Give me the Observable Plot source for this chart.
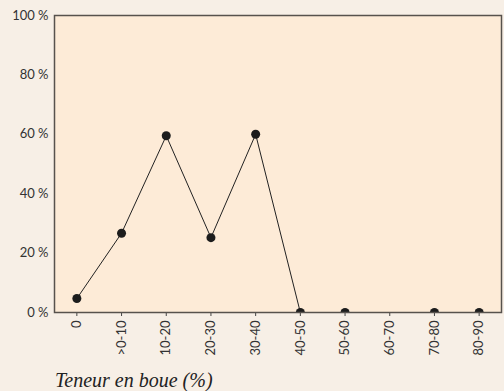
<!DOCTYPE html>
<html>
<head>
<meta charset="utf-8">
<script src="https://cdn.jsdelivr.net/npm/d3@7"></script>
<script src="https://cdn.jsdelivr.net/npm/@observablehq/plot@0.6"></script>
<style>
  html, body { margin: 0; padding: 0; background: #f7efe6; }
  #wrap { position: relative; width: 504px; height: 391px; overflow: hidden; }
  #caption { position: absolute; left: 55px; top: 369px; font-family: "Liberation Serif", serif; font-style: italic; font-size: 20px; line-height: 22px; color: #222; white-space: nowrap; }
</style>
</head>
<body>
<div id="wrap">
  <div id="chart"></div>
  <div id="caption">Teneur en boue (%)</div>
</div>
<script>
const categories = ["0", ">0-10", "10-20", "20-30", "30-40", "40-50", "50-60", "60-70", "70-80", "80-90"];
const values = [4.7, 26.7, 59.5, 25.2, 60, 0, 0, null, 0, 0];
const yTicks = [0, 20, 40, 60, 80, 100];

const data = categories.map((c, i) => ({cat: c, v: values[i]}));
const pts = data.filter(d => d.v !== null);

const chart = Plot.plot({
  width: 504,
  height: 358,
  marginTop: 15,
  marginLeft: 54,
  marginRight: 3,
  marginBottom: 46,
  style: {background: "transparent", fontFamily: "Lato, 'Open Sans', sans-serif", color: "#333"},
  x: {type: "point", domain: categories, padding: 0.5, round: false, label: null},
  y: {domain: [0, 100], label: null},
  marks: [
    Plot.frame({fill: "#fdebd7", stroke: "none"}),
    Plot.axisY({ticks: yTicks, tickFormat: d => d + " %", tickSize: 0, tickPadding: 6, label: null, fontSize: 13, fill: "#333"}),
    Plot.axisX({tickSize: 4, tickRotate: -90, tickPadding: 4, label: null, stroke: "#444", fontSize: 13, fill: "#333"}),
    Plot.line(data, {x: "cat", y: "v", stroke: "#222", strokeWidth: 1}),
    Plot.dot(pts, {x: "cat", y: "v", r: 4.5, fill: "#1c1c1c", stroke: "none", clip: true}),
    Plot.frame({stroke: "#57524d", strokeWidth: 1.5})
  ]
});
document.getElementById("chart").appendChild(chart);
</script>
</body>
</html>
